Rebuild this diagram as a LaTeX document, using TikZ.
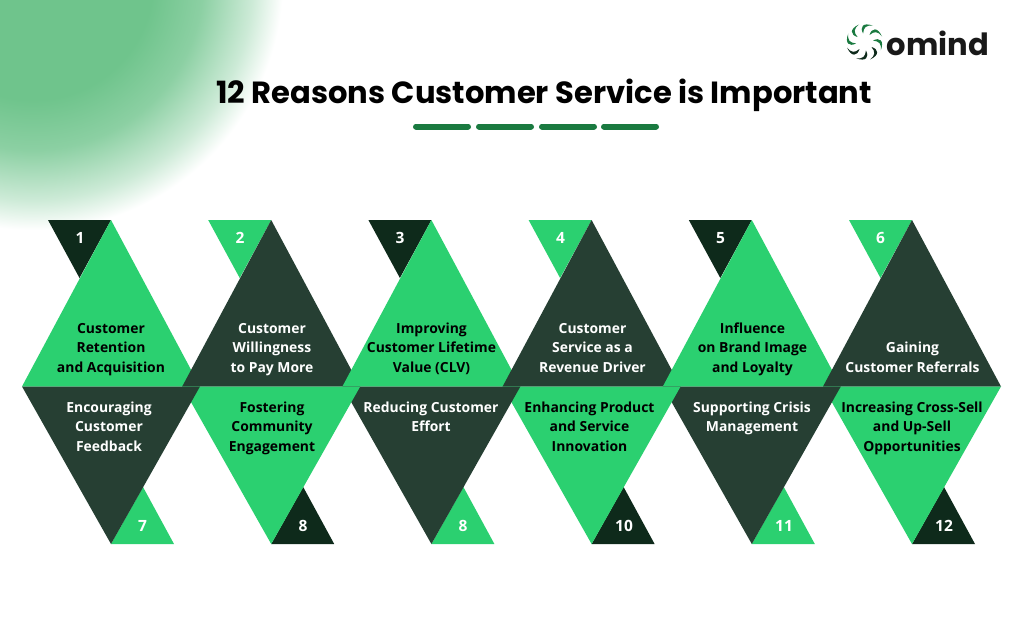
\documentclass[tikz,border=0pt]{standalone}
\usepackage{fontspec}
\setmainfont{Poppins}
\newfontfamily\bodyf{Open Sans}
\usetikzlibrary{calc}
\definecolor{gr}{HTML}{2BD070}
\definecolor{dk}{HTML}{263F33}
\definecolor{vd}{HTML}{0E2A1B}
\definecolor{bar}{HTML}{1A7A40}
\definecolor{blob}{HTML}{6FC48C}
\tikzset{
 x=1pt,y=-1pt,
 lbl/.style={align=center,anchor=base,font=\bodyf\bfseries\fontsize{13.9}{19.6}\selectfont,inner sep=0pt},
 lg/.style={lbl,text=black},
 ld/.style={lbl,text=white},
 num/.style={font=\bodyf\bfseries\fontsize{15.5}{18}\selectfont,text=white,inner sep=0pt},
 dashbar/.style={bar,line width=6pt,line cap=round},
 tg/.style={fill=gr},
 td/.style={fill=dk},
}
\pgfdeclareradialshading{blobshade}{\pgfpoint{0bp}{0bp}}{
 color(0bp)=(blob); color(12bp)=(blob); color(17bp)=(blob!80!white); color(22bp)=(blob!35!white); color(25bp)=(white); color(50bp)=(white)}
\newcommand{\upT}[2]{\fill[#2] (#1,220) -- (#1+89,386.5) -- (#1-89,386.5) -- cycle;}
\newcommand{\dnT}[2]{\fill[#2] (#1-89,386.5) -- (#1+89,386.5) -- (#1,544) -- cycle;}
\newcommand{\smallD}[2]{\fill[#2] (#1-63,220) -- (#1,220) -- (#1-31.5,278) -- cycle;}
\newcommand{\smallU}[2]{\fill[#2] (#1,544) -- (#1+63,544) -- (#1+32,487) -- cycle;}
\begin{document}
\begin{tikzpicture}
\useasboundingbox (0,0) rectangle (1024,616);
\fill[white] (0,0) rectangle (1024,616);
\begin{scope}
\clip (0,0) rectangle (300,240);
\shade[shading=blobshade] (33,-20) circle [radius=250];
\end{scope}
\foreach \x/\c in {111/vd,271.2/gr,431.4/vd,591.6/gr,751.8/vd,912/gr}{\smallD{\x}{\c}}
\foreach \x/\c in {111/gr,271.2/vd,431.4/gr,591.6/vd,751.8/gr,912/vd}{\smallU{\x}{\c}}
\upT{111}{tg}\upT{271.2}{td}\upT{431.4}{tg}\upT{591.6}{td}\upT{751.8}{tg}\upT{912}{td}
\dnT{912}{tg}\dnT{751.8}{td}\dnT{591.6}{tg}\dnT{431.4}{td}\dnT{271.2}{tg}\dnT{111}{td}
\node[num] (n1) at (80,238) {1};
\node[num] (n2) at (240,238) {2};
\node[num] (n3) at (400,238) {3};
\node[num] (n4) at (560.5,238) {4};
\node[num] (n5) at (720.5,238) {5};
\node[num] (n6) at (880.5,238) {6};
\node[num] (n7) at (142.5,526) {7};
\node[num] (n8) at (303,526) {8};
\node[num] (n9) at (463,526) {8};
\node[num] (n10) at (624,526) {10};
\node[num] (n11) at (784,526) {11};
\node[num] (n12) at (944,526) {12};
\node[lg] (a1) at (111,372.5) {Customer\\Retention\\and Acquisition};
\node[ld] (a2) at (272,372.5) {Customer\\Willingness\\to Pay More};
\node[lg] (a3) at (431.5,372.5) {Improving\\Customer Lifetime\\Value (CLV)};
\node[ld] (a4) at (592.5,372.5) {Customer\\Service as a\\Revenue Driver};
\node[lg] (a5) at (752.5,372.5) {Influence\\on Brand Image\\and Loyalty};
\node[ld] (a6) at (912.5,372.5) {Gaining\\Customer Referrals};
\node[ld] (b1) at (109,451.5) {Encouraging\\Customer\\Feedback};
\node[lg] (b2) at (272,451.5) {Fostering\\Community\\Engagement};
\node[ld] (b3) at (431,431.9) {Reducing Customer\\Effort};
\node[lg] (b4) at (589.5,451.5) {Enhancing Product\\and Service\\Innovation};
\node[ld] (b5) at (752,431.9) {Supporting Crisis\\Management};
\node[lg] (b6) at (912,451.5) {Increasing Cross-Sell\\and Up-Sell\\Opportunities};
\node[font=\bfseries\fontsize{30.6}{34}\selectfont,text=black,inner sep=0pt] (title) at (544,95) {12 Reasons Customer Service is Important};
\draw[dashbar] (416,126.5) -- (468,126.5);
\draw[dashbar] (479,126.5) -- (531,126.5);
\draw[dashbar] (542,126.5) -- (594,126.5);
\draw[dashbar] (604,126.5) -- (656,126.5);
\node[font=\bfseries\fontsize{30.6}{34}\selectfont,text=black!90,inner sep=0pt] (brand) at (938,43) {omind};
\begin{scope}[shift={(864.5,42)}]
\foreach \a/\c in {0/bar,45/bar,90/bar,135/bar,180/vd,225/vd,270/vd,315/bar}{
 \fill[\c,rotate=\a] (5,-7) .. controls (7,-14) and (13,-15.5) .. (17.5,-5.5) .. controls (13,-11) and (10,-11) .. (5,-7) -- cycle;
}
\end{scope}
\end{tikzpicture}
\end{document}
